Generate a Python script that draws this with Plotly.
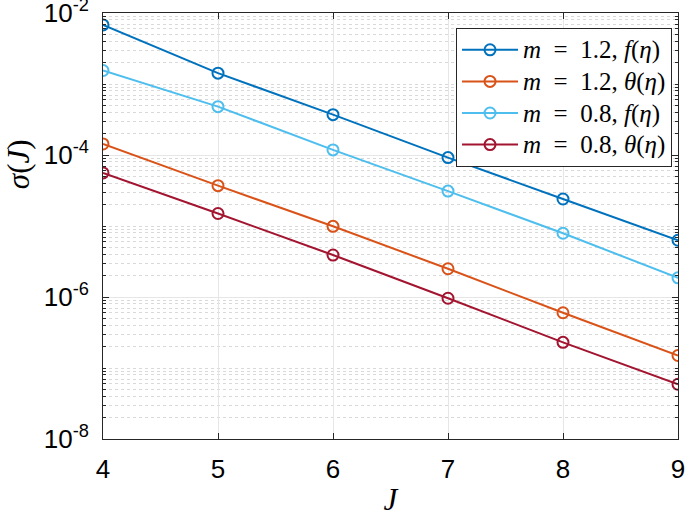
import plotly.graph_objects as go

# grid levels J
J = [4, 5, 6, 7, 8, 9]

# sigma(J)
sigma_m12_f = [6.8e-3, 1.42e-3, 3.7e-4, 9.2e-5, 2.4e-5, 6.3e-6]
sigma_m12_theta = [1.43e-4, 3.7e-5, 9.9e-6, 2.5e-6, 6.0e-7, 1.5e-7]
sigma_m08_f = [1.55e-3, 4.8e-4, 1.18e-4, 3.1e-5, 7.9e-6, 1.86e-6]
sigma_m08_theta = [5.6e-5, 1.5e-5, 3.9e-6, 9.6e-7, 2.3e-7, 5.9e-8]

sp = "&nbsp;"
def legend_label(m, fn):
    # bigger text inside a smaller legend font keeps the rows tight like MATLAB
    return (f'<span style="font-size:25px"><i>m</i>{sp}{sp}={sp}{sp}{m},{sp}'
            f'<i>{fn}</i>(<i>η</i>)</span>')

labels = [
    legend_label("1.2", "f"),
    legend_label("1.2", "θ"),
    legend_label("0.8", "f"),
    legend_label("0.8", "θ"),
]
# MATLAB default line colours
colors = ["#0072BD", "#D95319", "#4DBEEE", "#A2142F"]

y_tickvals = [1e-8, 1e-6, 1e-4, 1e-2]
y_ticktext = ["10<sup>-8</sup>", "10<sup>-6</sup>", "10<sup>-4</sup>", "10<sup>-2</sup>"]

serif = "Liberation Serif, DejaVu Serif, serif"
sans = "Liberation Sans, Arial, sans-serif"

fig = go.Figure()
for ys, name, c in zip([sigma_m12_f, sigma_m12_theta, sigma_m08_f, sigma_m08_theta], labels, colors):
    fig.add_trace(go.Scatter(
        x=J, y=ys, name=name, mode="lines+markers",
        line=dict(color=c, width=2),
        marker=dict(symbol="circle-open", size=11, color=c, line=dict(width=2)),
    ))

fig.update_layout(
    width=685, height=517,
    margin=dict(l=103, r=7, t=13, b=78, autoexpand=False),
    plot_bgcolor="white", paper_bgcolor="white",
    font=dict(family=sans, size=26, color="black"),
    legend=dict(
        x=0.9896, y=0.9648, xanchor="right", yanchor="top",
        bgcolor="white", bordercolor="#262626", borderwidth=1,
        font=dict(family=serif, size=22, color="black"),
        tracegroupgap=0, itemwidth=56,
    ),
    showlegend=True,
)

# MATLAB puts the ylabel above the middle here, so it is placed as an annotation
fig.add_annotation(
    text="<i>σ</i>(<i>J</i>)", xref="paper", yref="paper",
    x=-0.148, y=0.645, xanchor="center", yanchor="middle",
    showarrow=False, textangle=-90,
    font=dict(family=serif, size=31, color="black"),
)

fig.update_xaxes(
    range=[4, 9], tickvals=J, automargin=False, ticklabeloverflow="allow",
    showline=True, linecolor="#262626", linewidth=1, mirror="allticks",
    ticks="inside", ticklen=6, tickcolor="#262626", ticklabelstandoff=7,
    showgrid=True, gridcolor="#e6e6e6", gridwidth=1, zeroline=False,
    tickfont=dict(family=sans, size=26),
    title=dict(text="<i>J</i>", font=dict(family=serif, size=31), standoff=11),
)

fig.update_yaxes(
    type="log", range=[-8, -2], automargin=False, ticklabeloverflow="allow",
    tickmode="array", tickvals=y_tickvals, ticktext=y_ticktext,
    showline=True, linecolor="#262626", linewidth=1, mirror="allticks",
    ticks="inside", ticklen=6, tickcolor="#262626", ticklabelstandoff=8,
    showgrid=True, gridcolor="#e6e6e6", gridwidth=1, zeroline=False,
    minor=dict(dtick="D1", ticks="inside", ticklen=3, tickcolor="#262626",
               showgrid=True, gridcolor="#d9d9d9", griddash="dot", gridwidth=1),
    tickfont=dict(family=sans, size=26),
)

fig.write_html("out.html", config={"displayModeBar": False},
               post_script="document.body.style.margin='0';")
